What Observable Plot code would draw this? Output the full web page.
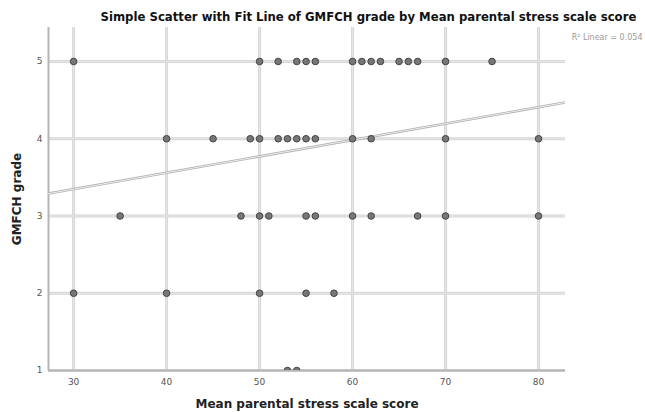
<!DOCTYPE html>
<html>
<head>
<meta charset="utf-8">
<script src="https://cdn.jsdelivr.net/npm/d3@7"></script>
<script src="https://cdn.jsdelivr.net/npm/@observablehq/plot@0.6"></script>
<style>
  html, body { margin: 0; padding: 0; background: #fff; }
  svg { display: block; }
</style>
</head>
<body>
<div id="chart"></div>
<script>
// ---- data ----
const titleText = "Simple Scatter with Fit Line of GMFCH grade by Mean parental stress scale score";
const xLabel = "Mean parental stress scale score";
const yLabel = "GMFCH grade";
const fitLabel = "R\u00b2 Linear = 0.054";

const grade5 = [30, 50, 52, 54, 55, 56, 60, 61, 62, 63, 65, 66, 67, 70, 75];
const grade4 = [40, 45, 49, 50, 52, 53, 54, 55, 56, 60, 62, 70, 80];
const grade3 = [35, 48, 50, 51, 55, 56, 60, 62, 67, 70, 80];
const grade2 = [30, 40, 50, 55, 58];
const grade1 = [53, 54];

const xTicks = [30, 40, 50, 60, 70, 80];
const yTicks = [1, 2, 3, 4, 5];

// fit line end points (read at the plot edges)
const fitX = [27.3, 82.9];
const fitY = [3.29, 4.47];

const xDomain = [27.3, 82.9];
const yDomain = [1, 5.44];

// ---- build tables ----
const points = [
  ...grade5.map(x => ({x, y: 5})),
  ...grade4.map(x => ({x, y: 4})),
  ...grade3.map(x => ({x, y: 3})),
  ...grade2.map(x => ({x, y: 2})),
  ...grade1.map(x => ({x, y: 1}))
];
const fit = fitX.map((x, i) => ({x, y: fitY[i]}));

const chart = Plot.plot({
  width: 645,
  height: 412,
  marginLeft: 48,
  marginRight: 80,
  marginTop: 27,
  marginBottom: 42,
  style: {fontFamily: "DejaVu Sans, Liberation Sans, sans-serif", background: "#fff"},
  x: {domain: xDomain, ticks: xTicks},
  y: {domain: yDomain, ticks: yTicks},
  marks: [
    Plot.gridX(xTicks, {stroke: "#d6d6d6", strokeWidth: 3, strokeOpacity: 1}),
    Plot.gridX(xTicks, {stroke: "#e8e8e8", strokeWidth: 1, strokeOpacity: 1}),
    Plot.gridY(yTicks, {stroke: "#d6d6d6", strokeWidth: 3, strokeOpacity: 1}),
    Plot.gridY(yTicks, {stroke: "#e8e8e8", strokeWidth: 1, strokeOpacity: 1}),
    Plot.ruleX([xDomain[0]], {stroke: "#b5b5b5", strokeWidth: 2}),
    Plot.ruleY([yDomain[0]], {stroke: "#b5b5b5", strokeWidth: 2}),
    Plot.line(fit, {x: "x", y: "y", stroke: "#b0b0b0", strokeWidth: 2.6, clip: true}),
    Plot.line(fit, {x: "x", y: "y", stroke: "#f4f4f4", strokeWidth: 0.9, clip: true}),
    Plot.dot(points, {x: "x", y: "y", r: 3.3, fill: "#777", stroke: "#444", strokeWidth: 1, clip: true}),
    Plot.axisX(xTicks, {tickSize: 0, tickPadding: 8, fontSize: 9, fill: "#555", label: null}),
    Plot.axisY(yTicks, {tickSize: 0, tickPadding: 6, fontSize: 9, fill: "#555", label: null, tickFormat: "d"}),
    Plot.text([xLabel], {frameAnchor: "bottom", dy: 37, fontSize: 12, fontWeight: "bold", fill: "#222"}),
    Plot.text([yLabel], {frameAnchor: "left", dx: -31, rotate: -90, textAnchor: "middle", fontSize: 12, fontWeight: "bold", fill: "#222"}),
    Plot.text([titleText], {frameAnchor: "top-left", dx: 52, dy: -15, textAnchor: "start", fontSize: 11.7, fontWeight: "bold", fill: "#111"}),
    Plot.text([fitLabel], {frameAnchor: "top-right", dx: 77, dy: 7, textAnchor: "end", fontSize: 8, fill: "#9a9a9a"})
  ]
});
document.getElementById("chart").appendChild(chart);
</script>
</body>
</html>
